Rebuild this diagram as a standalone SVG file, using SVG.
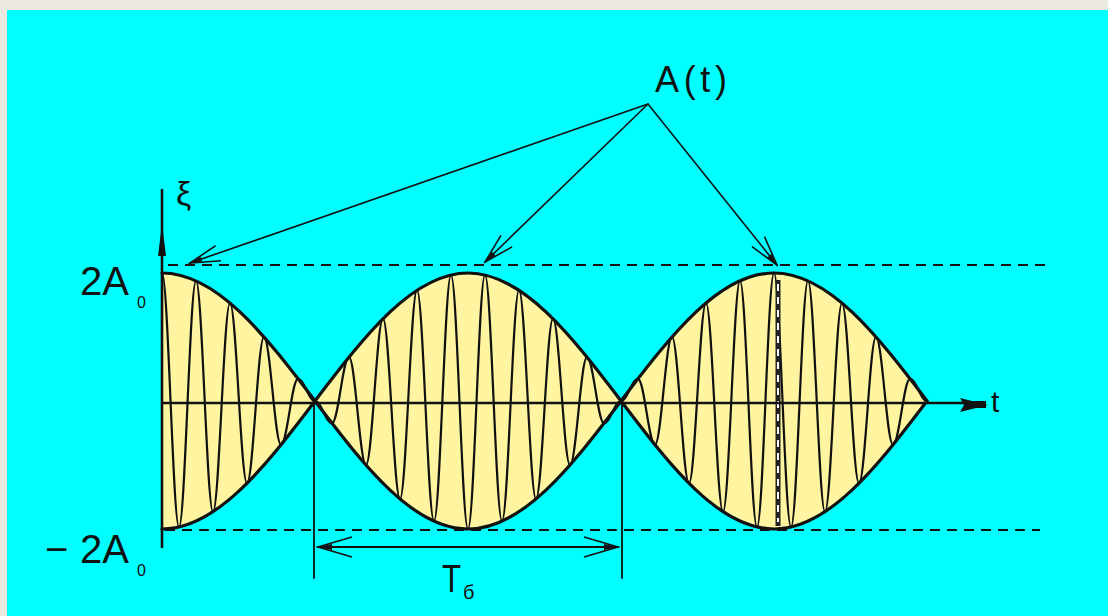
<svg xmlns="http://www.w3.org/2000/svg" width="1108" height="616" viewBox="0 0 1108 616">
<style>
  .ln { stroke:#111; fill:none; stroke-linecap:round; stroke-linejoin:round; }
  .dash { stroke:#111; stroke-width:1.8; stroke-dasharray:10 7; fill:none; }
  .lbl { font-family:"Liberation Sans", Arial, sans-serif; fill:#111; }
  .sub { font-family:"Liberation Sans", Arial, sans-serif; fill:#111; font-size:16px; }
</style>
<defs>
  <marker id="openV" viewBox="-32 -10 34 20" refX="0" refY="0" markerWidth="34" markerHeight="20" markerUnits="userSpaceOnUse" orient="auto">
    <path d="M-30,-8 L0,0 L-30,8" fill="none" stroke="#111" stroke-width="1.6"/>
    <path d="M-12,-2.5 L0,0 L-12,2.5 Z" fill="#111"/>
  </marker>
  <marker id="openVs" viewBox="-36 -12 38 24" refX="0" refY="0" markerWidth="38" markerHeight="24" markerUnits="userSpaceOnUse" orient="auto-start-reverse">
    <path d="M-34,-10 L0,0 L-34,10" fill="none" stroke="#111" stroke-width="1.6"/>
    <path d="M-14,-3 L0,0 L-14,3 Z" fill="#111"/>
  </marker>
</defs>
<rect x="0" y="0" width="1108" height="616" fill="#ECE9E0"/>
<rect x="7" y="10" width="1101" height="606" fill="#00FFFF"/>

<g id="beat-fill">
  <path d="M162,273 C217.1,273 265.1,335.4 315,401 C364.9,335.4 412.9,273 468,273 C523.1,273 571.1,335.4 621,401 C670.9,335.4 718.9,273 774,273 C829.1,273 877.1,335.4 927,401 C877.1,466.6 829.1,529 774,529 C718.9,529 670.9,466.6 621,401 C571.1,466.6 523.1,529 468,529 C412.9,529 364.9,466.6 315,401 C265.1,466.6 217.1,529 162,529 Z" fill="#FFF5A0" stroke="none"/>
</g>

<g id="guides">
  <line class="dash" x1="168" y1="265" x2="1045" y2="265"/>
  <line class="dash" x1="165" y1="530" x2="1040" y2="530"/>
</g>

<g id="carrier">
  <path class="ln" stroke-width="2.2" d="M162,273 C168.2,273 172.8,527.1 179,527.1 C185.2,527.1 189.8,280.7 196,280.7 C202.2,280.7 206.8,511.9 213,511.9 C219.2,511.9 223.8,303 230,303 C236.2,303 240.8,483.3 247,483.3 C253.2,483.3 257.8,337 264,337 C270.2,337 274.8,444.8 281,444.8 C287.2,444.8 291.8,378.8 298,378.8 C304.2,378.8 308.8,401 315,401 C321.2,401 325.8,423.2 332,423.2 C338.2,423.2 342.8,357.2 349,357.2 C355.2,357.2 359.8,465 366,465 C372.2,465 376.8,318.7 383,318.7 C389.2,318.7 393.8,499 400,499 C406.2,499 410.8,290.1 417,290.1 C423.2,290.1 427.8,521.3 434,521.3 C440.2,521.3 444.8,274.9 451,274.9 C457.2,274.9 461.8,529 468,529 C474.2,529 478.8,274.9 485,274.9 C491.2,274.9 495.8,521.3 502,521.3 C508.2,521.3 512.8,290.1 519,290.1 C525.2,290.1 529.8,499 536,499 C542.2,499 546.8,318.7 553,318.7 C559.2,318.7 563.8,465 570,465 C576.2,465 580.8,357.2 587,357.2 C593.2,357.2 597.8,423.2 604,423.2 C610.2,423.2 614.8,401 621,401 C627.2,401 631.8,378.8 638,378.8 C644.2,378.8 648.8,444.8 655,444.8 C661.2,444.8 665.8,337 672,337 C678.2,337 682.8,483.3 689,483.3 C695.2,483.3 699.8,303 706,303 C712.2,303 716.8,511.9 723,511.9 C729.2,511.9 733.8,280.7 740,280.7 C746.2,280.7 750.8,527.1 757,527.1 C763.2,527.1 767.8,273 774,273 C780.2,273 784.8,527.1 791,527.1 C797.2,527.1 801.8,280.7 808,280.7 C814.2,280.7 818.8,511.9 825,511.9 C831.2,511.9 835.8,303 842,303 C848.2,303 852.8,483.3 859,483.3 C865.2,483.3 869.8,337 876,337 C882.2,337 886.8,444.8 893,444.8 C899.2,444.8 903.8,378.8 910,378.8 C916.2,378.8 920.8,401 927,401"/>
  <line x1="778" y1="280" x2="778" y2="526" stroke="#222" stroke-width="5"/>
  <line x1="778" y1="284" x2="778" y2="522" stroke="#FFFFFF" stroke-width="2" stroke-dasharray="7 6"/>
</g>

<g id="envelope">
  <path class="ln" stroke-width="3.2" d="M162,273 C217.1,273 265.1,335.4 315,401 C364.9,335.4 412.9,273 468,273 C523.1,273 571.1,335.4 621,401 C670.9,335.4 718.9,273 774,273 C829.1,273 877.1,335.4 927,401"/>
  <path class="ln" stroke-width="3.2" d="M162,529 C217.1,529 265.1,466.6 315,401 C364.9,466.6 412.9,529 468,529 C523.1,529 571.1,466.6 621,401 C670.9,466.6 718.9,529 774,529 C829.1,529 877.1,466.6 927,401"/>
</g>

<g id="axes">
  <line class="ln" stroke-width="2.6" x1="162" y1="190" x2="162" y2="547"/>
  <path d="M162,224 L158,256 L166,256 Z" fill="#111"/>
  <line class="ln" stroke-width="2.4" x1="162" y1="403" x2="975" y2="403"/>
  <path d="M988,405 L960,398 L964,405 L960,412 Z" fill="#111"/>
  <rect x="972" y="401" width="14" height="7" fill="#111"/>
</g>

<g id="period-marks">
  <line class="ln" stroke-width="1.8" x1="314" y1="401" x2="314" y2="578"/>
  <line class="ln" stroke-width="1.8" x1="622" y1="401" x2="622" y2="578"/>
</g>

<g id="connectors">
  <line class="ln" stroke-width="1.6" x1="648" y1="104" x2="190" y2="263" marker-end="url(#openV)"/>
  <line class="ln" stroke-width="1.6" x1="648" y1="104" x2="485" y2="262" marker-end="url(#openV)"/>
  <line class="ln" stroke-width="1.6" x1="648" y1="104" x2="777" y2="265" marker-end="url(#openV)"/>
  <line class="ln" stroke-width="2" x1="318" y1="547" x2="618" y2="547" marker-start="url(#openVs)" marker-end="url(#openVs)"/>
</g>

<g id="label-At">
  <text class="lbl" x="655" y="92" font-size="36" textLength="72" lengthAdjust="spacing">A(t)</text>
</g>
<g id="label-xi">
  <text class="lbl" x="176" y="205" font-size="34">ξ</text>
</g>
<g id="label-t">
  <text class="lbl" x="991" y="412" font-size="30">t</text>
</g>
<g id="label-2A0">
  <text class="lbl" x="80" y="295" font-size="40">2A</text>
  <text class="sub" x="137" y="308">0</text>
</g>
<g id="label-m2A0">
  <text class="lbl" x="45" y="563" font-size="40">−<tspan x="80" y="563">2A</tspan></text>
  <text class="sub" x="137" y="576">0</text>
</g>
<g id="label-Tb">
  <text class="lbl" x="442" y="592" font-size="38" textLength="19" lengthAdjust="spacingAndGlyphs">T</text>
  <text class="lbl" x="463" y="599" font-size="20">б</text>
</g>
</svg>
